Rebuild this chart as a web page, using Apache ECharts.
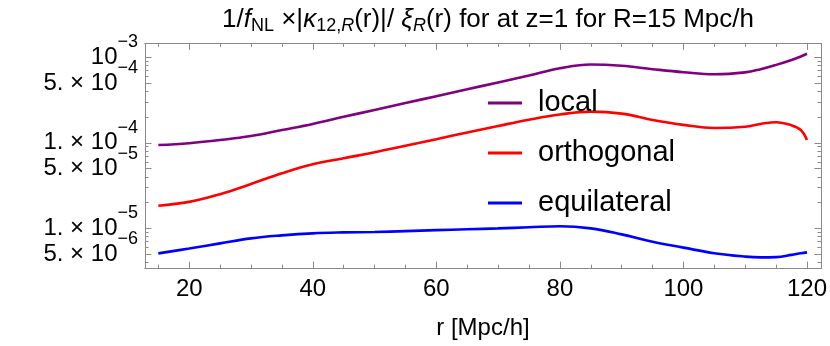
<!DOCTYPE html>
<html lang="en">
<head>
    <meta charset="UTF-8">
    <title>kappa12 / xi</title>
    <style>
        html, body {
            margin: 0;
            padding: 0;
            background: #fff;
        }
        #main {
            width: 830px;
            height: 346px;
        }
    </style>
</head>
<body>
    <div id="main"></div>
    <script src="https://cdn.jsdelivr.net/npm/echarts@6/dist/echarts.min.js"></script>
    <script>
    // r [Mpc/h]
    var rValues = [15, 20, 25, 30, 35, 40, 45, 50, 55, 60, 65, 70, 75, 80, 85, 90, 95, 100, 105, 110, 112.5, 115, 117.5, 119, 120];
    var localValues = [9.42e-5, 9.89e-5, 1.076e-4, 1.20e-4, 1.41e-4, 1.66e-4, 2.01e-4, 2.42e-4, 2.91e-4, 3.50e-4, 4.21e-4, 5.07e-4, 6.10e-4, 7.41e-4, 8.22e-4, 7.94e-4, 7.24e-4, 6.67e-4, 6.31e-4, 6.64e-4, 7.24e-4, 8.13e-4, 9.29e-4, 1.02e-3, 1.096e-3];
    var orthoValues = [1.84e-5, 2.04e-5, 2.51e-5, 3.30e-5, 4.40e-5, 5.61e-5, 6.60e-5, 7.74e-5, 9.25e-5, 1.10e-4, 1.32e-4, 1.57e-4, 1.86e-4, 2.14e-4, 2.31e-4, 2.19e-4, 1.85e-4, 1.62e-4, 1.49e-4, 1.54e-4, 1.66e-4, 1.74e-4, 1.60e-4, 1.41e-4, 1.08e-4];
    var equilValues = [5.11e-6, 5.82e-6, 6.68e-6, 7.64e-6, 8.28e-6, 8.75e-6, 8.97e-6, 9.08e-6, 9.29e-6, 9.53e-6, 9.77e-6, 1.0e-5, 1.03e-5, 1.06e-5, 1.0e-5, 8.51e-6, 6.97e-6, 5.96e-6, 5.13e-6, 4.68e-6, 4.58e-6, 4.62e-6, 4.90e-6, 5.13e-6, 5.25e-6];
    var seriesNames = ['local', 'orthogonal', 'equilateral'];
    var seriesColors = ['#800080', '#ff0000', '#0000ff'];

    // axis ticks
    var xMajorTicks = [20, 40, 60, 80, 100, 120];
    var xMinorTicks = [15, 25, 30, 35, 45, 50, 55, 65, 70, 75, 85, 90, 95, 105, 110, 115];
    var yTickValues = [1e-3, 5e-4, 1e-4, 5e-5, 1e-5, 5e-6];
    var yTickMantissa = ['', '5. \u00d7 ', '1. \u00d7 ', '5. \u00d7 ', '1. \u00d7 ', '5. \u00d7 '];
    var yTickExponent = ['\u22123', '\u22124', '\u22124', '\u22125', '\u22125', '\u22126'];

    var font = 'Liberation Sans, Arial, sans-serif';
    var frameColor = '#8a8a8a';
    var xMin = 12.84, xMax = 122.26;
    var yMin = -5.464, yMax = -2.839;   // log10 range of the frame

    var yMajorLog = yTickValues.map(function (v) { return Math.log10(v); });
    // labels split over two axes so neighbours 26px apart are not hidden
    var yLabelsDecade = yMajorLog.filter(function (v, i) { return i % 2 === 0; });
    var yLabelsFive = yMajorLog.filter(function (v, i) { return i % 2 === 1; });
    var yMinorLog = [];
    for (var d = -6; d <= -3; d++) {
        for (var m = 2; m <= 9; m++) {
            if (m === 5) continue;
            var lv = Math.log10(m * Math.pow(10, d));
            if (lv > yMin && lv < yMax) yMinorLog.push(lv);
        }
    }

    function toLogPairs(vals) {
        return rValues.map(function (r, i) { return [r, Math.log10(vals[i])]; });
    }

    function xAxisCfg(pos, ticks, len, withLabels) {
        return {
            type: 'value',
            position: pos,
            min: xMin,
            max: xMax,
            axisLine: { show: true, lineStyle: { color: frameColor, width: 1 } },
            axisTick: { show: true, inside: true, length: len, customValues: ticks, lineStyle: { color: frameColor, width: 1 } },
            axisLabel: {
                show: withLabels, customValues: ticks, margin: 9,
                fontSize: 24, color: '#000'
            },
            splitLine: { show: false }
        };
    }

    function yAxisCfg(pos, ticks, len, labels) {
        return {
            type: 'value',
            position: pos,
            min: yMin,
            max: yMax,
            axisLine: { show: true, lineStyle: { color: frameColor, width: 1 } },
            axisTick: { show: true, inside: true, length: len, customValues: ticks, lineStyle: { color: frameColor, width: 1 } },
            axisLabel: {
                show: !!labels, customValues: labels || ticks, margin: 7,
                showMinLabel: true, showMaxLabel: true,
                formatter: function (val) {
                    for (var i = 0; i < yMajorLog.length; i++) {
                        if (Math.abs(yMajorLog[i] - val) < 1e-6) {
                            return '{b|' + yTickMantissa[i] + '10}{s|' + yTickExponent[i] + '}';
                        }
                    }
                    return '';
                },
                rich: {
                    b: { fontSize: 24, lineHeight: 20, color: '#000' },
                    s: { fontSize: 18, lineHeight: 4, padding: [0, 0, 16, 0], verticalAlign: 'bottom', color: '#000' }
                }
            },
            splitLine: { show: false }
        };
    }

    var xAxisMain = xAxisCfg('bottom', xMajorTicks, 6.5, true);
    xAxisMain.name = 'r [Mpc/h]';
    xAxisMain.nameLocation = 'middle';
    xAxisMain.nameGap = 48;
    xAxisMain.nameTextStyle = { fontSize: 24, color: '#000' };

    var option = {
        animation: false,
        backgroundColor: '#fff',
        textStyle: { fontFamily: font },
        title: {
            left: 483,
            top: 0,
            textAlign: 'center',
            text: '{a|1/}{i|f}{sub|NL}{a| \u00d7|}{i|\u03ba}{sub|12,}{subi|R}{a|(r)|/ }{i|\u03be}{subi|R}{a|(r) for at z=1 for R=15 Mpc/h}',
            textStyle: {
                fontWeight: 'normal',
                rich: {
                    a: { fontSize: 26, lineHeight: 30, fontWeight: 'normal', color: '#000' },
                    i: { fontSize: 26, lineHeight: 30, fontWeight: 'normal', fontStyle: 'italic', color: '#000' },
                    sub: { fontSize: 18, lineHeight: 12, fontWeight: 'normal', verticalAlign: 'bottom', color: '#000' },
                    subi: { fontSize: 18, lineHeight: 12, fontWeight: 'normal', verticalAlign: 'bottom', fontStyle: 'italic', color: '#000' }
                }
            }
        },
        legend: {
            orient: 'vertical',
            left: 483,
            top: 83,
            itemWidth: 34,
            itemHeight: 3,
            itemGap: 20,
            icon: 'rect',
            textStyle: { fontSize: 29, lineHeight: 30, color: '#000', padding: [0, 0, 0, 11] },
            data: seriesNames
        },
        grid: {
            left: 145,
            right: 8.3,
            top: 43.4,
            bottom: 77.9
        },
        xAxis: [
            xAxisMain,
            xAxisCfg('bottom', xMinorTicks, 3.5, false),
            xAxisCfg('top', xMajorTicks, 6.5, false),
            xAxisCfg('top', xMinorTicks, 3.5, false)
        ],
        yAxis: [
            yAxisCfg('left', yMajorLog, 6.5, yLabelsDecade),
            yAxisCfg('left', yMinorLog, 3.5, yLabelsFive),
            yAxisCfg('right', yMajorLog, 6.5, null),
            yAxisCfg('right', yMinorLog, 3.5, null)
        ],
        series: [localValues, orthoValues, equilValues].map(function (vals, i) {
            return {
                name: seriesNames[i],
                type: 'line',
                data: toLogPairs(vals),
                smooth: 0.4,
                showSymbol: false,
                symbol: 'none',
                lineStyle: { color: seriesColors[i], width: 2.6 },
                itemStyle: { color: seriesColors[i] }
            };
        })
    };

    var chart = echarts.init(document.getElementById('main'));
    chart.setOption(option);
    </script>
</body>
</html>
